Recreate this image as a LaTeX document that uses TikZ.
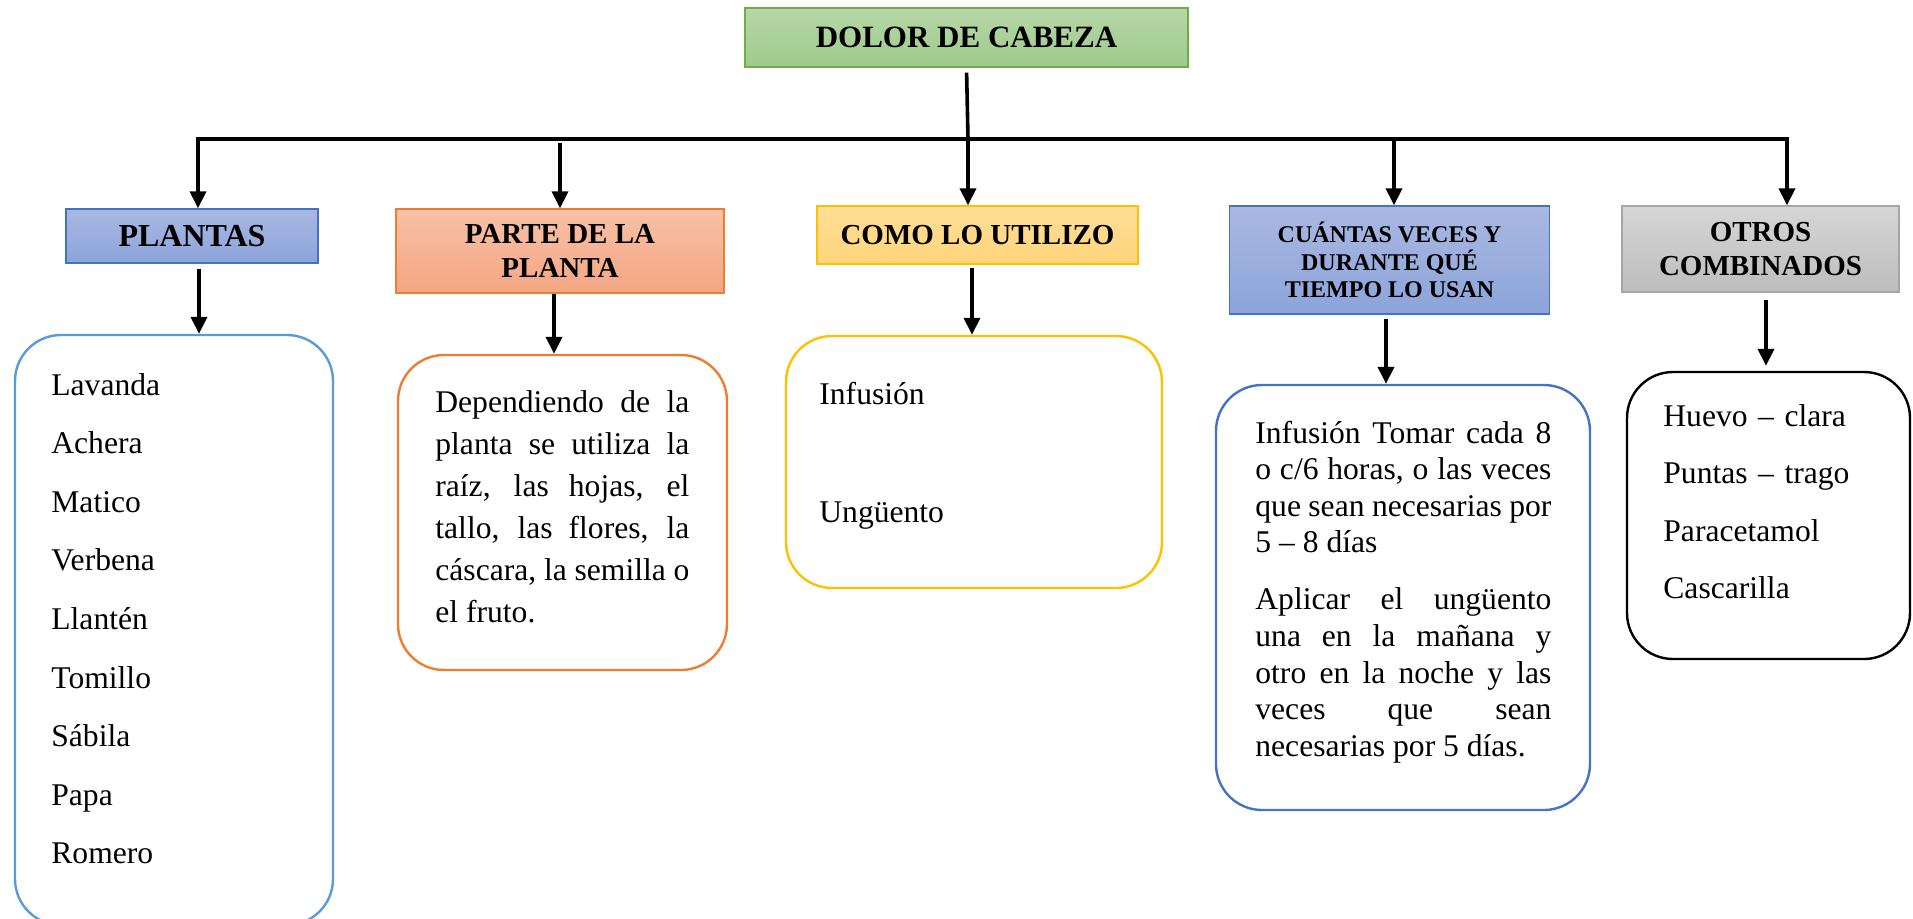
\documentclass[tikz,border=0pt]{standalone}
\usepackage{fontspec}
\setmainfont{Liberation Serif}
\usetikzlibrary{arrows.meta}
\definecolor{verde1}{HTML}{B7D7A8}
\definecolor{verde2}{HTML}{9FCA8C}
\definecolor{verdeborde}{HTML}{70AD47}
\definecolor{azul1}{HTML}{AAB8E2}
\definecolor{azul2}{HTML}{8CA4DA}
\definecolor{azulborde}{HTML}{4472C4}
\definecolor{naranja1}{HTML}{F8C1A7}
\definecolor{naranja2}{HTML}{F4A683}
\definecolor{naranjaborde}{HTML}{ED7D31}
\definecolor{amarillo1}{HTML}{FFDE98}
\definecolor{amarillo2}{HTML}{FFD57A}
\definecolor{amarilloborde}{HTML}{FFC000}
\definecolor{gris1}{HTML}{D6D6D6}
\definecolor{gris2}{HTML}{BDBDBD}
\definecolor{grisborde}{HTML}{A5A5A5}
\definecolor{celeste}{HTML}{5B9BD5}
\setlength{\parindent}{0pt}
\hyphenpenalty=10000
\exhyphenpenalty=10000
\begin{document}
\begin{tikzpicture}[x=0.5pt,y=-0.5pt,
            titulo/.style={draw,line width=0.7pt,align=center,inner sep=0pt,font=\bfseries\fontsize{14.5}{17}\selectfont},
            caja/.style={draw,line width=1.2pt,rounded corners=23pt},
            texto/.style={anchor=base west,inner sep=0pt,font=\fontsize{15.8}{18.3}\selectfont},
            punta/.tip={Triangle[width=8pt,length=8.5pt]},
            flecha/.style={line width=1.9pt,-punta}]
            \useasboundingbox (0,0) rectangle (1913,918);
            \node[titulo,font=\bfseries\fontsize{15.5}{18}\selectfont,draw=verdeborde,top color=verde1,bottom color=verde2,minimum width=221.5pt,minimum height=29.5pt] (dolor) at (966.5,37.5) {DOLOR DE CABEZA};
            \node[titulo,font=\bfseries\fontsize{16}{19}\selectfont,draw=azulborde,top color=azul1,bottom color=azul2,minimum width=126pt,minimum height=27pt] (plantas) at (192,236) {PLANTAS};
            \node[titulo,draw=naranjaborde,top color=naranja1,bottom color=naranja2,minimum width=164pt,minimum height=42pt] (parte) at (560,251) {PARTE DE LA\\PLANTA};
            \node[titulo,draw=amarilloborde,top color=amarillo1,bottom color=amarillo2,minimum width=160.5pt,minimum height=29pt] (como) at (977.5,235) {COMO LO UTILIZO};
            \node[titulo,font=\bfseries\fontsize{12}{13.8}\selectfont,draw=azulborde,top color=azul1,bottom color=azul2,minimum width=160pt,minimum height=54pt] (cuantas) at (1389.5,260) {CUÁNTAS VECES Y\\DURANTE QUÉ\\TIEMPO LO USAN};
            \node[titulo,draw=grisborde,top color=gris1,bottom color=gris2,minimum width=138.5pt,minimum height=43pt] (otros) at (1760.5,249) {OTROS\\COMBINADOS};
            \node[caja,draw=celeste,minimum width=159pt,minimum height=295pt] (cajaplantas) at (174,630) {};
            \node[caja,draw=naranjaborde,minimum width=164.5pt,minimum height=157.5pt] (cajaparte) at (562.5,512.5) {};
            \node[caja,draw=amarilloborde,minimum width=188pt,minimum height=126pt] (cajacomo) at (974,462) {};
            \node[caja,draw=azulborde,minimum width=187pt,minimum height=212.5pt] (cajacuantas) at (1403,597.5) {};
            \node[caja,draw=black,minimum width=141.5pt,minimum height=143.5pt] (cajaotros) at (1768.5,515.5) {};
            \node[texto,font=\fontsize{15.8}{29.3}\selectfont,text width=130pt,align=left] (txtplantas) at (51,395) {Lavanda\\Achera\\Matico\\Verbena\\Llantén\\Tomillo\\Sábila\\Papa\\Romero};
            \node[texto,font=\fontsize{15.8}{21}\selectfont,text width=127pt,align=justify] (txtparte) at (435,412) {Dependiendo de la \linebreak planta se utiliza la \linebreak raíz, las hojas, el \linebreak tallo, las flores, la \linebreak cáscara, la semilla o \linebreak el fruto.};
            \node[texto,font=\fontsize{15.8}{59}\selectfont,text width=150pt,align=left] (txtcomo) at (819,404) {Infusión\\Ungüento};
            \node[texto,text width=148pt,align=justify] (txtcuantas) at (1255,443) {Infusión Tomar cada 8 \linebreak o c/6 horas, o las veces \linebreak que sean necesarias por \linebreak 5 – 8 días\par\vspace{10.2pt}Aplicar el ungüento \linebreak una en la mañana y \linebreak otro en la noche y las \linebreak veces que sean \linebreak necesarias por 5 días.};
            \node[texto,font=\fontsize{15.8}{28.8}\selectfont,text width=110pt,align=left] (txtotros) at (1663,426) {Huevo – clara\\Puntas – trago\\Paracetamol\\Cascarilla};
            \coordinate (b1) at (198,139);
            \coordinate (b2) at (560,139);
            \coordinate (b3) at (968,139);
            \coordinate (b4) at (1394,139);
            \coordinate (b5) at (1787,139);
            \draw[line width=1.8pt,shorten <=2.5pt] (dolor.south) -- (b3);
            \draw[line width=1.9pt,punta-punta] (plantas.north -| b1) -- (b1) -- (b5) -- (otros.north -| b5);
            \draw[flecha,shorten <=2pt] (b2) -- (parte.north -| b2);
            \draw[flecha] (b3) -- (como.north -| b3);
            \draw[flecha] (b4) -- (cuantas.north -| b4);
            \draw[flecha,shorten <=2.5pt] (plantas.south -| 199,0) -- (cajaplantas.north -| 199,0);
            \draw[flecha] (parte.south -| 554,0) -- (cajaparte.north -| 554,0);
            \draw[flecha,shorten <=1.5pt] (como.south -| 972,0) -- (cajacomo.north -| 972,0);
            \draw[flecha,shorten <=2pt] (cuantas.south -| 1386,0) -- (cajacuantas.north -| 1386,0);
            \draw[flecha,shorten <=3.5pt,shorten >=2.5pt] (otros.south -| 1766,0) -- (cajaotros.north -| 1766,0);
\end{tikzpicture}
\end{document}
